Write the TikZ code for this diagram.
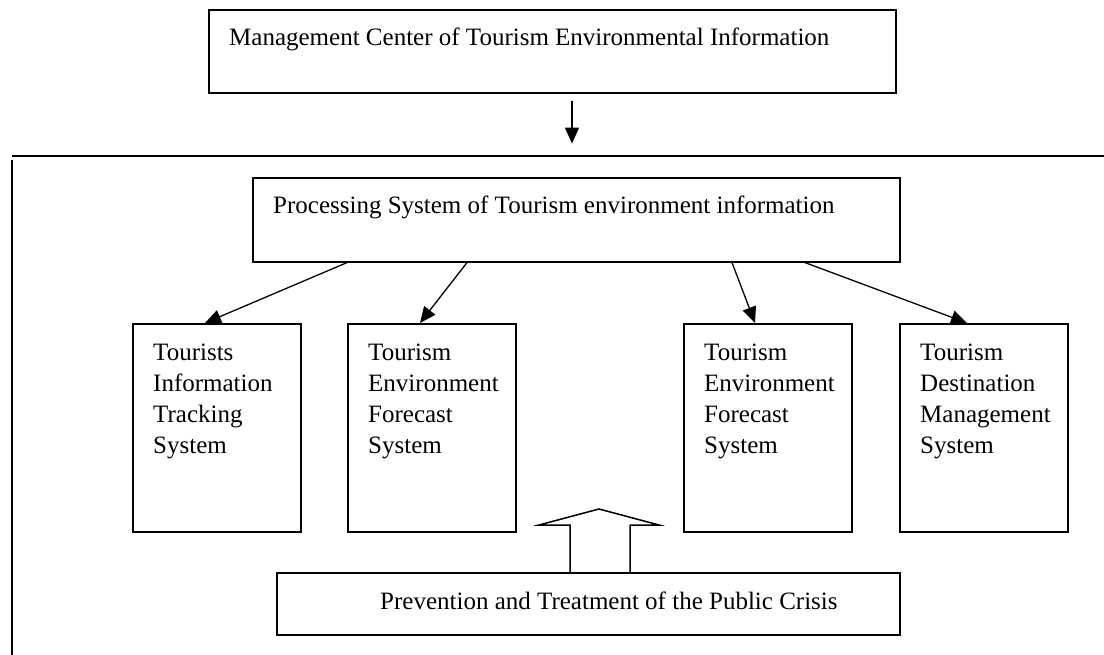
\documentclass[tikz,border=0pt]{standalone}
\usepackage{fontspec}
\setmainfont{Liberation Serif}
\usetikzlibrary{arrows.meta}

\tikzset{
    sysbox/.style={draw, line width=1.6pt, inner sep=0pt, anchor=north west},
    systext/.style={inner sep=0pt, anchor=base west, font=\fontsize{25}{31.3}\selectfont},
    flow/.style={line width=1.3pt, -{Triangle[length=16pt,width=14pt]}},
}

\begin{document}
\begin{tikzpicture}[x=1pt, y=-1pt]
    \useasboundingbox (0,0) rectangle (1104,655);

    \node[sysbox, minimum width=687pt, minimum height=83pt] (mgmt) at (208,9) {};
    \node[systext] (mgmt-text) at (229,46) {Management Center of Tourism Environmental Information};

    % frame round the processing part
    \draw[line width=2pt] (12,156) -- (1104,156);
    \draw[line width=2pt] (12,160) -- (12,655);

    \draw[flow] ([xshift=364pt, yshift=-7pt]mgmt.south west) -- ([xshift=364pt, yshift=-50pt]mgmt.south west);

    \node[sysbox, minimum width=647pt, minimum height=84pt] (proc) at (252,177) {};
    \node[systext] (proc-text) at (273,214) {Processing System of Tourism environment information};

    \foreach \name/\x/\lines in {tis/132/{Tourists\\Information\\Tracking\\System},
                                 tefa/347/{Tourism\\Environment\\Forecast\\System},
                                 tefb/683/{Tourism\\Environment\\Forecast\\System},
                                 tdms/899/{Tourism\\Destination\\Management\\System}} {
        \node[sysbox, minimum width=168pt, minimum height=208pt] (\name) at (\x,323) {};
        \node[systext] (\name-text) at (\x+21,360) {\parbox[t]{150pt}{\raggedright\lines}};
    }

    \draw[flow] ([xshift=95pt]proc.south west) -- ([xshift=73pt]tis.north west);
    \draw[flow] ([xshift=215pt]proc.south west) -- ([xshift=73pt]tefa.north west);
    \draw[flow] ([xshift=480pt]proc.south west) -- ([xshift=72pt]tefb.north west);
    \draw[flow] ([xshift=553pt]proc.south west) -- ([xshift=68pt]tdms.north west);

    \node[sysbox, minimum width=623pt, minimum height=62pt] (crisis) at (276,572) {};
    \node[systext] (crisis-text) at (380,609) {Prevention and Treatment of the Public Crisis};

    % hollow arrow standing on the crisis box
    \draw[line width=1.5pt] ([xshift=294pt]crisis.north west) -- ++(0,-47) -- ++(-31,0)
        -- ++(60,-16) -- ++(60,16) -- ++(-29,0) -- ++(0,47);
\end{tikzpicture}
\end{document}
